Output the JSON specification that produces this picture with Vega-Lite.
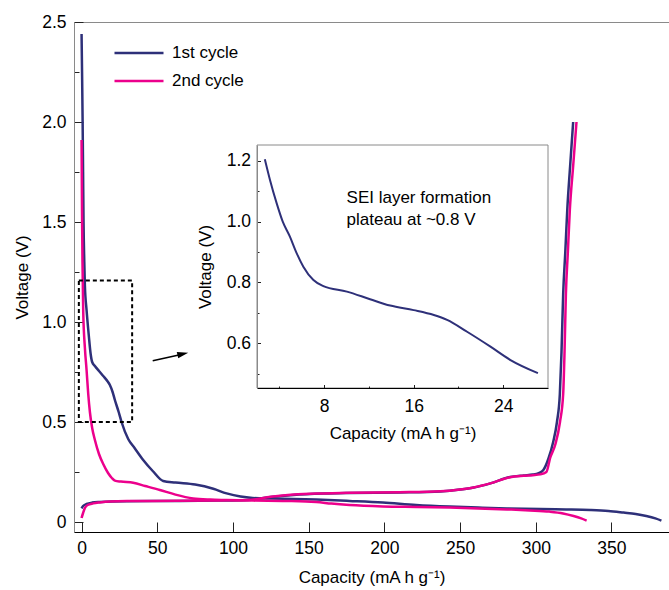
{
  "$schema": "https://vega.github.io/schema/vega-lite/v6.json",
  "width": 595,
  "height": 510,
  "autosize": {"type": "none"},
  "padding": {"left": 74, "top": 22, "right": 0, "bottom": 58},
  "config": {
    "font": "Liberation Sans",
    "view": {"stroke": "#8a8a8a", "strokeWidth": 1},
    "axis": {"grid": false, "labelColor": "#000", "titleColor": "#000", "titleFontWeight": "normal", "labelFont": "Liberation Sans", "titleFont": "Liberation Sans"},
    "legend": {"labelFont": "Liberation Sans", "labelColor": "#000"}
  },
  "datasets": {
    "main": [
      {"cycle": "1st cycle", "branch": "discharge", "capacity": 0, "voltage": 2.44},
      {"cycle": "1st cycle", "branch": "discharge", "capacity": 0.4, "voltage": 2.2},
      {"cycle": "1st cycle", "branch": "discharge", "capacity": 0.7, "voltage": 2.0},
      {"cycle": "1st cycle", "branch": "discharge", "capacity": 1.0, "voltage": 1.75},
      {"cycle": "1st cycle", "branch": "discharge", "capacity": 1.3, "voltage": 1.5},
      {"cycle": "1st cycle", "branch": "discharge", "capacity": 1.8, "voltage": 1.3},
      {"cycle": "1st cycle", "branch": "discharge", "capacity": 2.2, "voltage": 1.18},
      {"cycle": "1st cycle", "branch": "discharge", "capacity": 3.3, "voltage": 1.06},
      {"cycle": "1st cycle", "branch": "discharge", "capacity": 4.8, "voltage": 0.93},
      {"cycle": "1st cycle", "branch": "discharge", "capacity": 6.0, "voltage": 0.84},
      {"cycle": "1st cycle", "branch": "discharge", "capacity": 7.0, "voltage": 0.8},
      {"cycle": "1st cycle", "branch": "discharge", "capacity": 8.8, "voltage": 0.78},
      {"cycle": "1st cycle", "branch": "discharge", "capacity": 11.5, "voltage": 0.755},
      {"cycle": "1st cycle", "branch": "discharge", "capacity": 14.3, "voltage": 0.73},
      {"cycle": "1st cycle", "branch": "discharge", "capacity": 17, "voltage": 0.705},
      {"cycle": "1st cycle", "branch": "discharge", "capacity": 18.7, "voltage": 0.685},
      {"cycle": "1st cycle", "branch": "discharge", "capacity": 20.5, "voltage": 0.65},
      {"cycle": "1st cycle", "branch": "discharge", "capacity": 22, "voltage": 0.61},
      {"cycle": "1st cycle", "branch": "discharge", "capacity": 24.5, "voltage": 0.55},
      {"cycle": "1st cycle", "branch": "discharge", "capacity": 26.4, "voltage": 0.5},
      {"cycle": "1st cycle", "branch": "discharge", "capacity": 30.8, "voltage": 0.415},
      {"cycle": "1st cycle", "branch": "discharge", "capacity": 35, "voltage": 0.37},
      {"cycle": "1st cycle", "branch": "discharge", "capacity": 40.7, "voltage": 0.31},
      {"cycle": "1st cycle", "branch": "discharge", "capacity": 47, "voltage": 0.255},
      {"cycle": "1st cycle", "branch": "discharge", "capacity": 53.9, "voltage": 0.205},
      {"cycle": "1st cycle", "branch": "discharge", "capacity": 62, "voltage": 0.197},
      {"cycle": "1st cycle", "branch": "discharge", "capacity": 75, "voltage": 0.187},
      {"cycle": "1st cycle", "branch": "discharge", "capacity": 87, "voltage": 0.166},
      {"cycle": "1st cycle", "branch": "discharge", "capacity": 95.8, "voltage": 0.143},
      {"cycle": "1st cycle", "branch": "discharge", "capacity": 105, "voltage": 0.127},
      {"cycle": "1st cycle", "branch": "discharge", "capacity": 113, "voltage": 0.12},
      {"cycle": "1st cycle", "branch": "discharge", "capacity": 125, "voltage": 0.117},
      {"cycle": "1st cycle", "branch": "discharge", "capacity": 140, "voltage": 0.115},
      {"cycle": "1st cycle", "branch": "discharge", "capacity": 155, "voltage": 0.112},
      {"cycle": "1st cycle", "branch": "discharge", "capacity": 177, "voltage": 0.105},
      {"cycle": "1st cycle", "branch": "discharge", "capacity": 199, "voltage": 0.097},
      {"cycle": "1st cycle", "branch": "discharge", "capacity": 221, "voltage": 0.085},
      {"cycle": "1st cycle", "branch": "discharge", "capacity": 243, "voltage": 0.077},
      {"cycle": "1st cycle", "branch": "discharge", "capacity": 262, "voltage": 0.072},
      {"cycle": "1st cycle", "branch": "discharge", "capacity": 281, "voltage": 0.068},
      {"cycle": "1st cycle", "branch": "discharge", "capacity": 303, "voltage": 0.065},
      {"cycle": "1st cycle", "branch": "discharge", "capacity": 320, "voltage": 0.063},
      {"cycle": "1st cycle", "branch": "discharge", "capacity": 336, "voltage": 0.06},
      {"cycle": "1st cycle", "branch": "discharge", "capacity": 348, "voltage": 0.055},
      {"cycle": "1st cycle", "branch": "discharge", "capacity": 358, "voltage": 0.047},
      {"cycle": "1st cycle", "branch": "discharge", "capacity": 366, "voltage": 0.04},
      {"cycle": "1st cycle", "branch": "discharge", "capacity": 373, "voltage": 0.03},
      {"cycle": "1st cycle", "branch": "discharge", "capacity": 379, "voltage": 0.018},
      {"cycle": "1st cycle", "branch": "discharge", "capacity": 383, "voltage": 0.007},
      {"cycle": "1st cycle", "branch": "charge", "capacity": 0, "voltage": 0.068},
      {"cycle": "1st cycle", "branch": "charge", "capacity": 1, "voltage": 0.08},
      {"cycle": "1st cycle", "branch": "charge", "capacity": 3.3, "voltage": 0.09},
      {"cycle": "1st cycle", "branch": "charge", "capacity": 7, "voltage": 0.097},
      {"cycle": "1st cycle", "branch": "charge", "capacity": 12, "voltage": 0.1},
      {"cycle": "1st cycle", "branch": "charge", "capacity": 30, "voltage": 0.104},
      {"cycle": "1st cycle", "branch": "charge", "capacity": 63, "voltage": 0.105},
      {"cycle": "1st cycle", "branch": "charge", "capacity": 90, "voltage": 0.107},
      {"cycle": "1st cycle", "branch": "charge", "capacity": 110, "voltage": 0.11},
      {"cycle": "1st cycle", "branch": "charge", "capacity": 125, "voltage": 0.125},
      {"cycle": "1st cycle", "branch": "charge", "capacity": 140, "voltage": 0.135},
      {"cycle": "1st cycle", "branch": "charge", "capacity": 160, "voltage": 0.142},
      {"cycle": "1st cycle", "branch": "charge", "capacity": 177, "voltage": 0.145},
      {"cycle": "1st cycle", "branch": "charge", "capacity": 210, "voltage": 0.148},
      {"cycle": "1st cycle", "branch": "charge", "capacity": 237, "voltage": 0.153},
      {"cycle": "1st cycle", "branch": "charge", "capacity": 250, "voltage": 0.162},
      {"cycle": "1st cycle", "branch": "charge", "capacity": 259, "voltage": 0.172},
      {"cycle": "1st cycle", "branch": "charge", "capacity": 270, "voltage": 0.193},
      {"cycle": "1st cycle", "branch": "charge", "capacity": 283, "voltage": 0.225},
      {"cycle": "1st cycle", "branch": "charge", "capacity": 292, "voltage": 0.233},
      {"cycle": "1st cycle", "branch": "charge", "capacity": 298, "voltage": 0.237},
      {"cycle": "1st cycle", "branch": "charge", "capacity": 302, "voltage": 0.245},
      {"cycle": "1st cycle", "branch": "charge", "capacity": 305, "voltage": 0.26},
      {"cycle": "1st cycle", "branch": "charge", "capacity": 308.5, "voltage": 0.32},
      {"cycle": "1st cycle", "branch": "charge", "capacity": 311.5, "voltage": 0.4},
      {"cycle": "1st cycle", "branch": "charge", "capacity": 314, "voltage": 0.5},
      {"cycle": "1st cycle", "branch": "charge", "capacity": 315.9, "voltage": 0.64},
      {"cycle": "1st cycle", "branch": "charge", "capacity": 317, "voltage": 0.85},
      {"cycle": "1st cycle", "branch": "charge", "capacity": 318.1, "voltage": 1.14},
      {"cycle": "1st cycle", "branch": "charge", "capacity": 319.5, "voltage": 1.35},
      {"cycle": "1st cycle", "branch": "charge", "capacity": 320.8, "voltage": 1.56},
      {"cycle": "1st cycle", "branch": "charge", "capacity": 322.7, "voltage": 1.78},
      {"cycle": "1st cycle", "branch": "charge", "capacity": 324.7, "voltage": 2.0},
      {"cycle": "2nd cycle", "branch": "discharge", "capacity": 0, "voltage": 1.91},
      {"cycle": "2nd cycle", "branch": "discharge", "capacity": 0.3, "voltage": 1.55},
      {"cycle": "2nd cycle", "branch": "discharge", "capacity": 0.6, "voltage": 1.3},
      {"cycle": "2nd cycle", "branch": "discharge", "capacity": 1.1, "voltage": 1.05},
      {"cycle": "2nd cycle", "branch": "discharge", "capacity": 2.2, "voltage": 0.87},
      {"cycle": "2nd cycle", "branch": "discharge", "capacity": 3.3, "voltage": 0.76},
      {"cycle": "2nd cycle", "branch": "discharge", "capacity": 4.4, "voltage": 0.64},
      {"cycle": "2nd cycle", "branch": "discharge", "capacity": 5.5, "voltage": 0.55},
      {"cycle": "2nd cycle", "branch": "discharge", "capacity": 7, "voltage": 0.47},
      {"cycle": "2nd cycle", "branch": "discharge", "capacity": 8.8, "voltage": 0.41},
      {"cycle": "2nd cycle", "branch": "discharge", "capacity": 11.5, "voltage": 0.34},
      {"cycle": "2nd cycle", "branch": "discharge", "capacity": 14.3, "voltage": 0.29},
      {"cycle": "2nd cycle", "branch": "discharge", "capacity": 17.5, "voltage": 0.245},
      {"cycle": "2nd cycle", "branch": "discharge", "capacity": 20, "voltage": 0.22},
      {"cycle": "2nd cycle", "branch": "discharge", "capacity": 22, "voltage": 0.207},
      {"cycle": "2nd cycle", "branch": "discharge", "capacity": 26, "voltage": 0.202},
      {"cycle": "2nd cycle", "branch": "discharge", "capacity": 34.1, "voltage": 0.196},
      {"cycle": "2nd cycle", "branch": "discharge", "capacity": 42, "voltage": 0.18},
      {"cycle": "2nd cycle", "branch": "discharge", "capacity": 51.7, "voltage": 0.16},
      {"cycle": "2nd cycle", "branch": "discharge", "capacity": 62, "voltage": 0.137},
      {"cycle": "2nd cycle", "branch": "discharge", "capacity": 73.7, "voltage": 0.118},
      {"cycle": "2nd cycle", "branch": "discharge", "capacity": 85, "voltage": 0.112},
      {"cycle": "2nd cycle", "branch": "discharge", "capacity": 95.8, "voltage": 0.11},
      {"cycle": "2nd cycle", "branch": "discharge", "capacity": 113.3, "voltage": 0.107},
      {"cycle": "2nd cycle", "branch": "discharge", "capacity": 135, "voltage": 0.105},
      {"cycle": "2nd cycle", "branch": "discharge", "capacity": 155, "voltage": 0.1},
      {"cycle": "2nd cycle", "branch": "discharge", "capacity": 165, "voltage": 0.092},
      {"cycle": "2nd cycle", "branch": "discharge", "capacity": 177, "voltage": 0.085},
      {"cycle": "2nd cycle", "branch": "discharge", "capacity": 199, "voltage": 0.078},
      {"cycle": "2nd cycle", "branch": "discharge", "capacity": 221, "voltage": 0.075},
      {"cycle": "2nd cycle", "branch": "discharge", "capacity": 243, "voltage": 0.072},
      {"cycle": "2nd cycle", "branch": "discharge", "capacity": 262, "voltage": 0.068},
      {"cycle": "2nd cycle", "branch": "discharge", "capacity": 281, "voltage": 0.063},
      {"cycle": "2nd cycle", "branch": "discharge", "capacity": 296, "voltage": 0.058},
      {"cycle": "2nd cycle", "branch": "discharge", "capacity": 309, "voltage": 0.052},
      {"cycle": "2nd cycle", "branch": "discharge", "capacity": 318, "voltage": 0.043},
      {"cycle": "2nd cycle", "branch": "discharge", "capacity": 325, "voltage": 0.03},
      {"cycle": "2nd cycle", "branch": "discharge", "capacity": 330, "voltage": 0.018},
      {"cycle": "2nd cycle", "branch": "discharge", "capacity": 333.6, "voltage": 0.007},
      {"cycle": "2nd cycle", "branch": "charge", "capacity": 0, "voltage": 0.02},
      {"cycle": "2nd cycle", "branch": "charge", "capacity": 1, "voltage": 0.045},
      {"cycle": "2nd cycle", "branch": "charge", "capacity": 2.2, "voltage": 0.07},
      {"cycle": "2nd cycle", "branch": "charge", "capacity": 4, "voltage": 0.085},
      {"cycle": "2nd cycle", "branch": "charge", "capacity": 7.7, "voltage": 0.093},
      {"cycle": "2nd cycle", "branch": "charge", "capacity": 12, "voltage": 0.098},
      {"cycle": "2nd cycle", "branch": "charge", "capacity": 18.7, "voltage": 0.103},
      {"cycle": "2nd cycle", "branch": "charge", "capacity": 30, "voltage": 0.105},
      {"cycle": "2nd cycle", "branch": "charge", "capacity": 63, "voltage": 0.106},
      {"cycle": "2nd cycle", "branch": "charge", "capacity": 90, "voltage": 0.108},
      {"cycle": "2nd cycle", "branch": "charge", "capacity": 110, "voltage": 0.11},
      {"cycle": "2nd cycle", "branch": "charge", "capacity": 125, "voltage": 0.126},
      {"cycle": "2nd cycle", "branch": "charge", "capacity": 140, "voltage": 0.137},
      {"cycle": "2nd cycle", "branch": "charge", "capacity": 160, "voltage": 0.143},
      {"cycle": "2nd cycle", "branch": "charge", "capacity": 177, "voltage": 0.146},
      {"cycle": "2nd cycle", "branch": "charge", "capacity": 210, "voltage": 0.149},
      {"cycle": "2nd cycle", "branch": "charge", "capacity": 237, "voltage": 0.154},
      {"cycle": "2nd cycle", "branch": "charge", "capacity": 250, "voltage": 0.163},
      {"cycle": "2nd cycle", "branch": "charge", "capacity": 259, "voltage": 0.173},
      {"cycle": "2nd cycle", "branch": "charge", "capacity": 270, "voltage": 0.193},
      {"cycle": "2nd cycle", "branch": "charge", "capacity": 283, "voltage": 0.224},
      {"cycle": "2nd cycle", "branch": "charge", "capacity": 292, "voltage": 0.231},
      {"cycle": "2nd cycle", "branch": "charge", "capacity": 298, "voltage": 0.234},
      {"cycle": "2nd cycle", "branch": "charge", "capacity": 303, "voltage": 0.238},
      {"cycle": "2nd cycle", "branch": "charge", "capacity": 307, "voltage": 0.25},
      {"cycle": "2nd cycle", "branch": "charge", "capacity": 309.5, "voltage": 0.32},
      {"cycle": "2nd cycle", "branch": "charge", "capacity": 313, "voltage": 0.39},
      {"cycle": "2nd cycle", "branch": "charge", "capacity": 316, "voltage": 0.5},
      {"cycle": "2nd cycle", "branch": "charge", "capacity": 318.1, "voltage": 0.64},
      {"cycle": "2nd cycle", "branch": "charge", "capacity": 319, "voltage": 0.85},
      {"cycle": "2nd cycle", "branch": "charge", "capacity": 319.9, "voltage": 1.14},
      {"cycle": "2nd cycle", "branch": "charge", "capacity": 321.2, "voltage": 1.35},
      {"cycle": "2nd cycle", "branch": "charge", "capacity": 322.5, "voltage": 1.56},
      {"cycle": "2nd cycle", "branch": "charge", "capacity": 324.7, "voltage": 1.78},
      {"cycle": "2nd cycle", "branch": "charge", "capacity": 326.9, "voltage": 2.0}
    ],
    "inset": [
      {"capacity": 2.7, "voltage": 1.205},
      {"capacity": 3.16, "voltage": 1.137},
      {"capacity": 3.76, "voltage": 1.06},
      {"capacity": 4.3, "voltage": 1.0},
      {"capacity": 4.95, "voltage": 0.95},
      {"capacity": 5.5, "voltage": 0.9},
      {"capacity": 6.14, "voltage": 0.852},
      {"capacity": 7.04, "voltage": 0.808},
      {"capacity": 7.93, "voltage": 0.788},
      {"capacity": 10.03, "voltage": 0.77},
      {"capacity": 12.1, "voltage": 0.745},
      {"capacity": 13.9, "voltage": 0.724},
      {"capacity": 16.0, "voltage": 0.709},
      {"capacity": 17.8, "voltage": 0.693},
      {"capacity": 18.98, "voltage": 0.677},
      {"capacity": 20.77, "voltage": 0.638},
      {"capacity": 22.86, "voltage": 0.589},
      {"capacity": 24.65, "voltage": 0.545},
      {"capacity": 27.1, "voltage": 0.502}
    ],
    "note": [
      {"label": "SEI layer formation\nplateau at ~0.8 V"}
    ]
  },
  "layer": [
    {
      "layer": [
        {
          "data": {"name": "main"},
          "mark": {"type": "line", "strokeWidth": 2.5, "interpolate": "monotone"},
          "encoding": {
            "x": {
              "field": "capacity", "type": "quantitative",
              "scale": {"domain": [-5, 388], "nice": false, "zero": false},
              "axis": {
                "title": "Capacity (mA h g⁻¹)",
                "values": [0, 25, 50, 75, 100, 125, 150, 175, 200, 225, 250, 275, 300, 325, 350, 375],
                "labelExpr": "datum.value % 50 === 0 ? datum.label : ''",
                "tickSize": {"condition": {"test": "datum.value % 50 === 0", "value": -10}, "value": -5},
                "labelPadding": 17,
                "labelFontSize": 17.5,
                "labelFlush": false,
                "labelOverlap": false,
                "tickColor": "#222",
                "domainColor": "#000",
                "titleFontSize": 17,
                "titlePadding": 13
              }
            },
            "y": {
              "field": "voltage", "type": "quantitative",
              "scale": {"domain": [-0.05, 2.5], "nice": false, "zero": false},
              "axis": {
                "title": "Voltage (V)",
                "values": [0, 0.25, 0.5, 0.75, 1, 1.25, 1.5, 1.75, 2, 2.25, 2.5],
                "labelExpr": "datum.value === 0 ? '0' : (abs(datum.value*2 - round(datum.value*2)) < 0.000001 ? format(datum.value, '.1f') : '')",
                "tickSize": {"condition": {"test": "abs(datum.value*2 - round(datum.value*2)) < 0.000001", "value": -9}, "value": -5},
                "labelPadding": 17,
                "labelFontSize": 17.5,
                "labelFlush": false,
                "labelOverlap": false,
                "tickColor": "#222",
                "domainColor": "#8a8a8a",
                "titleFontSize": 17,
                "titlePadding": 10
              }
            },
            "color": {
              "field": "cycle", "type": "nominal",
              "scale": {"domain": ["1st cycle", "2nd cycle"], "range": ["#2E3079", "#EC008C"]},
              "legend": {
                "orient": "none", "legendX": 39, "legendY": 17, "title": null,
                "symbolType": "stroke", "symbolSize": 2401, "symbolStrokeWidth": 2.5,
                "labelFontSize": 17, "labelOffset": 7, "clipHeight": 28, "rowPadding": 0, "padding": 0
              }
            },
            "detail": {"field": "branch"}
          }
        },
        {
          "data": {"values": [{}]},
          "mark": {"type": "rect", "filled": false, "stroke": "#000", "strokeWidth": 2, "strokeDash": [4, 3]},
          "encoding": {
            "x": {"datum": -1.8, "type": "quantitative"},
            "x2": {"datum": 33.4},
            "y": {"datum": 0.5, "type": "quantitative"},
            "y2": {"datum": 1.207}
          }
        },
        {
          "data": {"values": [{}]},
          "mark": {"type": "rule", "stroke": "#000", "strokeWidth": 1.5},
          "encoding": {
            "x": {"datum": 47, "type": "quantitative"},
            "y": {"datum": 0.8065, "type": "quantitative"},
            "x2": {"datum": 66.5},
            "y2": {"datum": 0.839}
          }
        },
        {
          "data": {"values": [{}]},
          "mark": {"type": "point", "shape": "M-1,-0.6L1,0L-1,0.6Z", "filled": true, "color": "#000", "opacity": 1, "size": 121, "angle": 347},
          "encoding": {
            "x": {"datum": 66.9, "type": "quantitative"},
            "y": {"datum": 0.8405, "type": "quantitative"}
          }
        }
      ]
    },
    {
      "layer": [
        {
          "data": {"values": [{}]},
          "mark": {"type": "rect", "filled": false, "stroke": "#8a8a8a", "strokeWidth": 1},
          "encoding": {
            "x": {"datum": 2, "type": "quantitative"},
            "x2": {"datum": 28},
            "y": {"datum": 0.453, "type": "quantitative"},
            "y2": {"datum": 1.252}
          }
        },
        {
          "data": {"name": "inset"},
          "mark": {"type": "line", "strokeWidth": 2, "color": "#2E3079", "interpolate": "monotone"},
          "encoding": {
            "x": {
              "field": "capacity", "type": "quantitative",
              "scale": {"domain": [2, 28], "range": [183, 474], "nice": false, "zero": false},
              "axis": {
                "orient": "bottom", "offset": -144, "zindex": 1,
                "title": "Capacity (mA h g⁻¹)",
                "values": [4, 8, 12, 16, 20, 24],
                "labelExpr": "datum.value % 8 === 0 ? datum.label : ''",
                "tickSize": {"condition": {"test": "datum.value % 8 === 0", "value": -3.5}, "value": -2},
                "labelPadding": 12.5,
                "labelFontSize": 17.5,
                "labelFlush": false,
                "labelOverlap": false,
                "tickColor": "#222",
                "domainColor": "#000",
                "titleFontSize": 17,
                "titlePadding": 9
              }
            },
            "y": {
              "field": "voltage", "type": "quantitative",
              "scale": {"domain": [0.453, 1.252], "range": [366, 123], "nice": false, "zero": false},
              "axis": {
                "orient": "left", "offset": -183, "zindex": 1,
                "title": "Voltage (V)",
                "values": [0.5, 0.6, 0.7, 0.8, 0.9, 1.0, 1.1, 1.2],
                "labelExpr": "abs(datum.value*5 - round(datum.value*5)) < 0.000001 ? format(datum.value, '.1f') : ''",
                "tickSize": {"condition": {"test": "abs(datum.value*5 - round(datum.value*5)) < 0.000001", "value": -3.5}, "value": -2},
                "labelPadding": 10,
                "labelFontSize": 17.5,
                "labelFlush": false,
                "labelOverlap": false,
                "tickColor": "#222",
                "domainColor": "#8a8a8a",
                "titleFontSize": 17,
                "titlePadding": 12
              }
            }
          }
        },
        {
          "data": {"name": "note"},
          "mark": {"type": "text", "align": "left", "baseline": "alphabetic", "fontSize": 17, "lineBreak": "\n", "lineHeight": 22, "color": "#000"},
          "encoding": {
            "x": {"datum": 10, "type": "quantitative"},
            "y": {"datum": 1.06, "type": "quantitative"},
            "text": {"field": "label"}
          }
        }
      ]
    }
  ],
  "resolve": {"scale": {"x": "independent", "y": "independent"}}
}
